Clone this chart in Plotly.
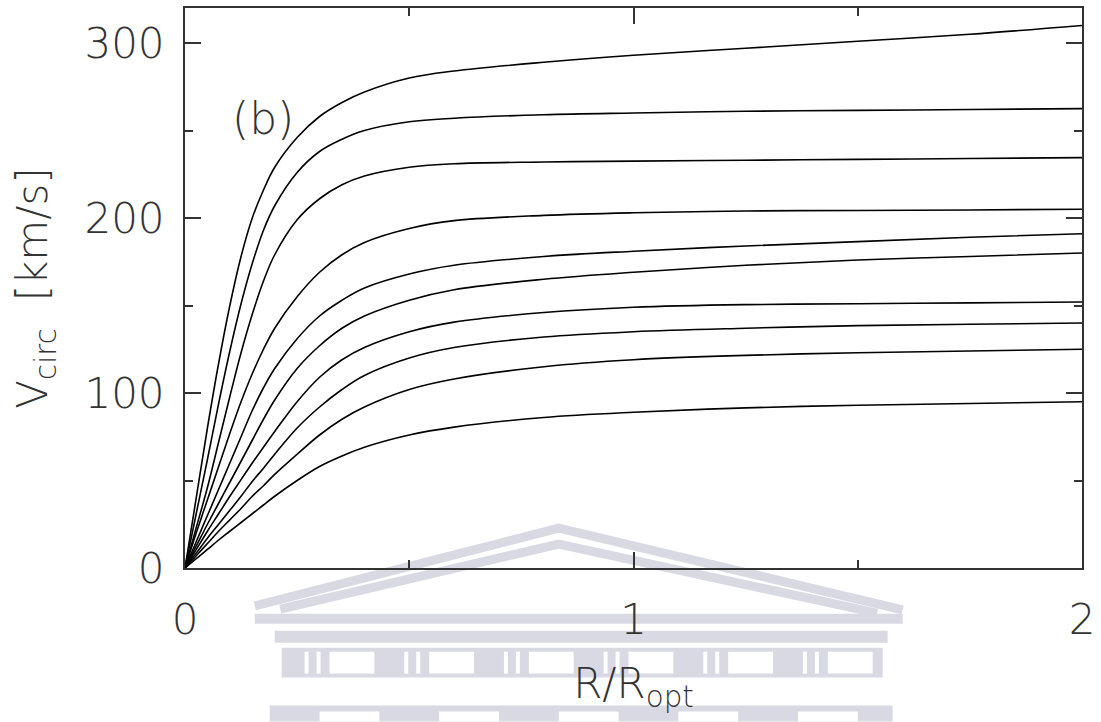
import plotly.graph_objects as go

# Radius in units of R_opt
x_vals = [0, 0.025, 0.05, 0.075, 0.1, 0.125, 0.15, 0.175, 0.2, 0.25, 0.3, 0.35, 0.4,
          0.5, 0.6, 0.8, 1.0, 1.25, 1.5, 1.75, 2.0]

# Circular velocity curves (km/s), top to bottom
v_c1 = [0, 40, 80, 117, 150, 178, 200, 216, 229, 246, 258, 266, 272, 280, 284, 289, 293, 297, 301, 305, 310]
v_c2 = [0, 31, 62, 94, 124, 151, 174, 193, 207, 226, 238, 245, 250, 255, 257, 259, 260, 261, 261.5, 262, 262.5]
v_c3 = [0, 23, 46, 72, 98, 123, 145, 164, 179, 199, 211, 219, 224, 229, 231, 232, 232.5, 233, 233.5, 234, 234.5]
v_c4 = [0, 20, 39, 58, 77, 95, 111, 125, 137, 155, 169, 179, 186, 194, 198.5, 201.5, 203, 204, 204.3, 204.6, 205]
v_c5 = [0, 15, 30, 45, 60, 75, 90, 103, 114, 131, 144, 153, 160, 168, 173, 178, 181, 184, 186.5, 189, 191]
v_c6 = [0, 12.5, 25, 37, 49, 61, 73, 85, 96, 114, 127, 137, 144, 153, 159, 165, 169, 173, 176, 178, 180]
v_c7 = [0, 10.5, 21, 31, 41, 50.5, 60, 69, 78, 95, 109, 119, 126, 135, 140.5, 146, 149, 150.5, 151, 151.5, 152]
v_c8 = [0, 8.5, 17, 25, 33, 41, 49.5, 57, 65, 80, 92, 102, 110, 120, 126, 132, 135, 137, 138.5, 139.3, 140]
v_c9 = [0, 7, 14, 21, 27.5, 34, 41, 47, 53.5, 65, 76, 85, 92, 102, 108, 115, 119, 121.5, 123, 124, 125]
v_c10 = [0, 5.3, 10.6, 16, 21, 26, 31, 36, 41, 50, 58, 64, 69, 76, 80.5, 86, 89, 91.5, 93, 94, 95]

curves = [v_c1, v_c2, v_c3, v_c4, v_c5, v_c6, v_c7, v_c8, v_c9, v_c10]

x_ticks = [0, 1, 2]
y_ticks = [0, 100, 200, 300]

FONT = "DejaVu Sans"
INK = "#333333"

W, H = 1101, 722
ML, MR, MT, MB = 185, 16, 6, 154

fig = go.Figure()
for v in curves:
    fig.add_trace(go.Scatter(
        x=x_vals, y=v, mode="lines",
        line=dict(color="black", width=1.6, shape="spline", smoothing=1.0),
        showlegend=False, hoverinfo="skip"))

# --- faint watermark (building emblem) behind the lower part of the figure ---
PW, PH = W - ML - MR, H - MT - MB
def px(xp):
    return (xp - ML) / PW
def py(yp):
    return (H - MB - yp) / PH

WM = "#d8d9e3"
shapes = []
# roof outlines
for off in (0, 16):
    path = (f"M {px(255 + off * 1.6)} {py(606 + off * 0.2)} "
            f"L {px(560)} {py(528 + off)} "
            f"L {px(905 - off * 1.6)} {py(610 + off * 0.2)}")
    shapes.append(dict(type="path", xref="paper", yref="paper", path=path,
                       line=dict(color=WM, width=9), layer="below"))
# cornice and entablature bands
shapes.append(dict(type="rect", xref="paper", yref="paper", x0=px(255), x1=px(905),
                   y0=py(624), y1=py(614), fillcolor=WM, line=dict(width=0), layer="below"))
shapes.append(dict(type="rect", xref="paper", yref="paper", x0=px(275), x1=px(890),
                   y0=py(643), y1=py(631), fillcolor=WM, line=dict(width=0), layer="below"))
# column row with openings
shapes.append(dict(type="rect", xref="paper", yref="paper", x0=px(282), x1=px(885),
                   y0=py(678), y1=py(648), fillcolor=WM, line=dict(width=0), layer="below"))
for xa in (300, 400, 500, 600, 700, 800):
    shapes.append(dict(type="rect", xref="paper", yref="paper", x0=px(xa + 30), x1=px(xa + 75),
                       y0=py(674), y1=py(652), fillcolor="white", line=dict(width=0), layer="below"))
    for k in (0, 12):
        shapes.append(dict(type="rect", xref="paper", yref="paper", x0=px(xa + 5 + k), x1=px(xa + 9 + k),
                           y0=py(674), y1=py(652), fillcolor="white", line=dict(width=0), layer="below"))
# lower base bands
shapes.append(dict(type="rect", xref="paper", yref="paper", x0=px(270), x1=px(895),
                   y0=py(722), y1=py(706), fillcolor=WM, line=dict(width=0), layer="below"))
for xa in (300, 420, 540, 660, 780):
    shapes.append(dict(type="rect", xref="paper", yref="paper", x0=px(xa + 20), x1=px(xa + 80),
                       y0=py(722), y1=py(712), fillcolor="white", line=dict(width=0), layer="below"))

axis_common = dict(
    showline=True, linecolor=INK, linewidth=2, mirror="ticks",
    ticks="inside", ticklen=16, tickwidth=2, tickcolor=INK,
    showgrid=False, zeroline=False,
    tickfont=dict(family=FONT, size=42, color=INK, weight=300),
)

fig.update_layout(
    width=W, height=H,
    margin=dict(l=ML, r=MR, t=MT, b=MB),
    paper_bgcolor="white", plot_bgcolor="rgba(0,0,0,0)",
    shapes=shapes,
    xaxis=dict(
        range=[0, 2], tickvals=x_ticks, ticktext=[str(t) for t in x_ticks],
        minor=dict(ticks="inside", ticklen=8, tickwidth=2, tickcolor=INK, dtick=0.5, tick0=0),
        ticklabelstandoff=14,
        title=dict(text="R/R<sub>opt</sub>", font=dict(family=FONT, size=42, color=INK, weight=300), standoff=25),
        **axis_common),
    yaxis=dict(
        range=[0, 320], tickvals=y_ticks, ticktext=[str(t) for t in y_ticks],
        minor=dict(ticks="inside", ticklen=8, tickwidth=2, tickcolor=INK, dtick=50, tick0=0),
        ticklabelstandoff=10,
        title=dict(text="V<sub>circ</sub>  [km/s]", font=dict(family=FONT, size=42, color=INK, weight=300), standoff=24),
        **axis_common),
    annotations=[dict(x=0.173, y=257, xref="x", yref="y", text="(b)", showarrow=False,
                      font=dict(family=FONT, size=44, color=INK, weight=300))],
)

fig.write_html("out.html")
